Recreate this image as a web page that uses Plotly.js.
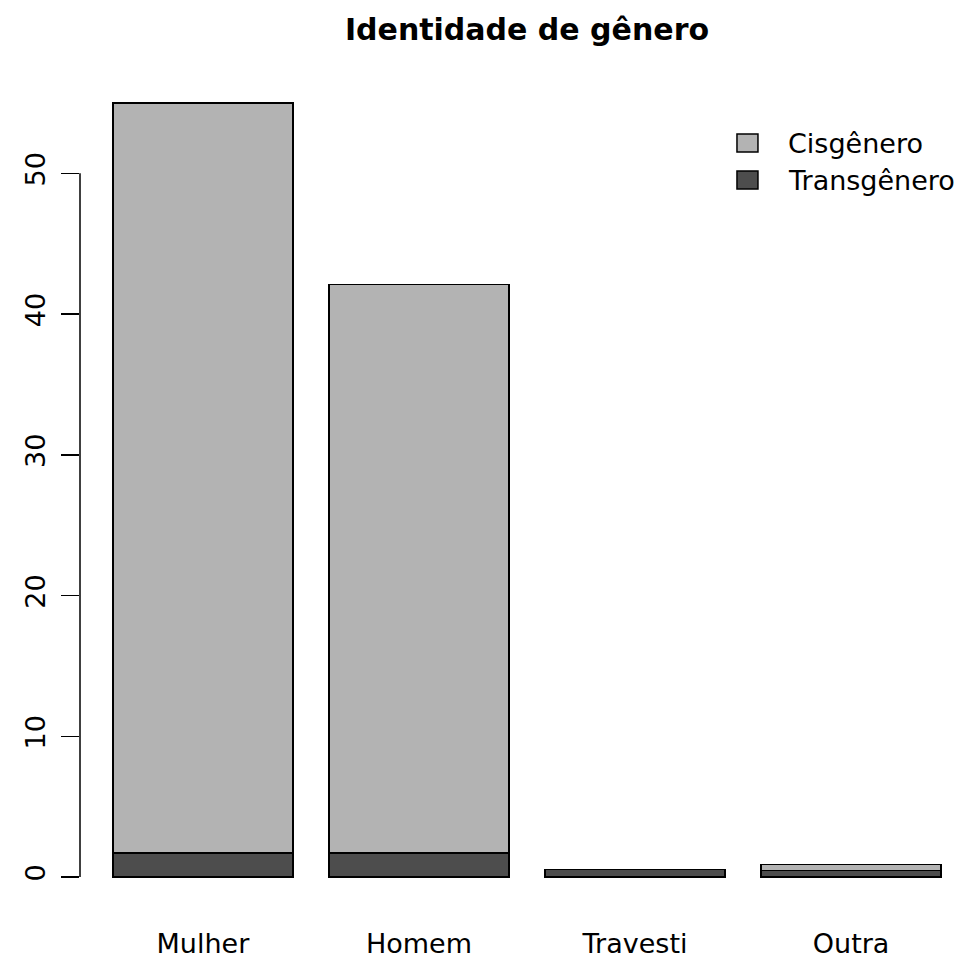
<!DOCTYPE html>
<html>
<head>
<meta charset="utf-8">
<script src="https://cdn.plot.ly/plotly-3.0.1.min.js"></script>
<style>html,body{margin:0;padding:0;background:#fff;}#chart{width:966px;height:963px;}</style>
</head>
<body>
<div id="chart"></div>
<script>
var categories = ["Mulher", "Homem", "Travesti", "Outra"];
var cisValues = [53.3, 40.4, 0, 0.45];
var transValues = [1.7, 1.7, 0.55, 0.45];
var yTickValues = [0, 10, 20, 30, 40, 50];
var seriesNames = ["Cisgênero", "Transgênero"];
var seriesColors = ["#B3B3B3", "#4D4D4D"];

var font = "DejaVu Sans, Liberation Sans, Arial, sans-serif";

var traces = [
  {
    type: "bar", name: seriesNames[1], x: categories, y: transValues, showlegend: false,
    marker: {color: seriesColors[1], line: {color: "#000000", width: 1.5}}
  },
  {
    type: "bar", name: seriesNames[0], x: categories, y: cisValues, showlegend: false,
    marker: {color: seriesColors[0], line: {color: "#000000", width: 1.5}}
  }
];

// custom legend (larger keys like R's legend())
var legendSquares = [
  {y0: 0.9043, y1: 0.9258, ty: 0.9150},
  {y0: 0.8600, y1: 0.8816, ty: 0.8708}
];
var shapes = [
  {type: "line", xref: "paper", x0: 0, x1: 0, yref: "y", y0: yTickValues[0], y1: yTickValues[yTickValues.length - 1],
   line: {color: "#000", width: 1.5}}
];
var annotations = [];
seriesNames.forEach(function (nm, i) {
  var s = legendSquares[i];
  shapes.push({type: "rect", xref: "paper", yref: "paper", x0: 0.7415, x1: 0.7652, y0: s.y0, y1: s.y1,
    fillcolor: seriesColors[i], line: {color: "#000", width: 1.5}});
  annotations.push({xref: "paper", yref: "paper", x: 0.7991, y: s.ty, xanchor: "left", yanchor: "middle",
    text: nm, showarrow: false, font: {family: font, size: 27, color: "#000"}, xshift: -2});
});

var layout = {
  width: 966, height: 963,
  margin: {l: 80, r: 0, t: 72, b: 55},
  paper_bgcolor: "#ffffff", plot_bgcolor: "#ffffff",
  barmode: "stack",
  bargap: 0.1667,
  showlegend: false,
  title: {
    text: "<b>Identidade de gênero</b>",
    font: {family: font, size: 30, color: "#000"},
    x: 0.5045, xref: "paper", xanchor: "center",
    y: 0.969, yref: "container", yanchor: "middle"
  },
  xaxis: {
    type: "category",
    range: [-0.569, 3.532],
    showline: false, showgrid: false, zeroline: false,
    ticks: "", ticklabelstandoff: 17,
    tickfont: {family: font, size: 27, color: "#000"},
    fixedrange: true
  },
  yaxis: {
    range: [-2.2, 57.2],
    showline: false, showgrid: false, zeroline: false,
    tickvals: yTickValues, ticktext: yTickValues.map(String),
    ticks: "outside", ticklen: 18, tickwidth: 1.5, tickcolor: "#000",
    tickangle: -90, ticklabelstandoff: 5,
    tickfont: {family: font, size: 27, color: "#000"},
    fixedrange: true
  },
  shapes: shapes,
  annotations: annotations
};

Plotly.newPlot("chart", traces, layout, {displayModeBar: false, staticPlot: true});
</script>
</body>
</html>
